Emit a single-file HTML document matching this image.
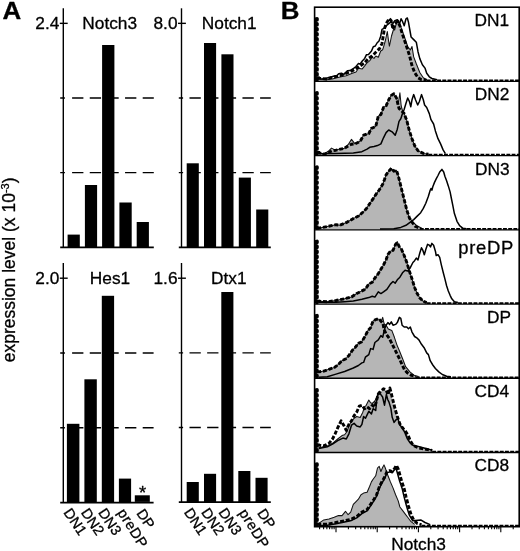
<!DOCTYPE html>
<html lang="en"><head><meta charset="utf-8"><title>Notch expression figure</title>
<style>html,body{margin:0;padding:0;background:#fff}body{width:520px;height:551px;overflow:hidden}svg{display:block}text{font-family:'Liberation Sans', sans-serif;fill:#000;stroke:#000;stroke-width:0.3px;stroke-linejoin:round}</style>
</head><body>
<svg width="520" height="551" viewBox="0 0 520 551">
<rect x="0" y="0" width="520" height="551" fill="#fff"/>
<g id="panelA">
<text transform="translate(2.4,19) scale(1.07,1)" font-size="24.2" font-weight="bold" stroke-width="0.5">A</text>
<text transform="translate(15.4,362.3) rotate(-90)" font-size="17.5">expression level (x 10<tspan font-size="11" dy="-6.4">-3</tspan><tspan dy="6.4">)</tspan></text>
<path d="M63.3 8.3V247.3" stroke="#000" stroke-width="1.4" fill="none"/>
<path d="M60.2 247.3H153.8" stroke="#000" stroke-width="1.7" fill="none"/>
<path d="M59.8 23.35H67.7" stroke="#000" stroke-width="1.4" fill="none"/>
<path d="M60.2 98H64.9M72.1 98H83.4M89.75 98H101.05M107.4 98H118.7M125.05 98H136.35M142.7 98H153.8" stroke="#000" stroke-width="1.4" fill="none"/>
<path d="M60.2 172.65H64.9M72.1 172.65H83.4M89.75 172.65H101.05M107.4 172.65H118.7M125.05 172.65H136.35M142.7 172.65H153.8" stroke="#000" stroke-width="1.4" fill="none"/>
<rect x="67.6" y="234.6" width="12.2" height="12.7" fill="#000"/>
<rect x="84.9" y="185" width="12.2" height="62.3" fill="#000"/>
<rect x="102.1" y="45" width="12.3" height="202.3" fill="#000"/>
<rect x="119.4" y="202.5" width="12.3" height="44.8" fill="#000"/>
<rect x="136.7" y="222" width="12.2" height="25.3" fill="#000"/>
<text x="59.3" y="28.65" font-size="17.3" text-anchor="end">2.4</text>
<text x="82.3" y="28.65" font-size="17.3">Notch3</text>
<path d="M181.5 8.3V247.3" stroke="#000" stroke-width="1.4" fill="none"/>
<path d="M178.8 247.3H270.8" stroke="#000" stroke-width="1.7" fill="none"/>
<path d="M178 23.35H185.9" stroke="#000" stroke-width="1.4" fill="none"/>
<path d="M178.8 98H183.1M189.5 98H200.8M207.15 98H218.45M224.8 98H236.1M242.45 98H253.75M260.1 98H270.8" stroke="#000" stroke-width="1.4" fill="none"/>
<path d="M178.8 172.65H183.1M189.5 172.65H200.8M207.15 172.65H218.45M224.8 172.65H236.1M242.45 172.65H253.75M260.1 172.65H270.8" stroke="#000" stroke-width="1.4" fill="none"/>
<rect x="186.7" y="163.3" width="12.1" height="84" fill="#000"/>
<rect x="204" y="43" width="12.1" height="204.3" fill="#000"/>
<rect x="221.4" y="54.3" width="12.1" height="193" fill="#000"/>
<rect x="238.8" y="177.6" width="12.1" height="69.7" fill="#000"/>
<rect x="256.2" y="209.5" width="12.1" height="37.8" fill="#000"/>
<text x="177.5" y="28.65" font-size="17.3" text-anchor="end">8.0</text>
<text x="201.8" y="28.65" font-size="17.3">Notch1</text>
<path d="M63.3 263.1V502.6" stroke="#000" stroke-width="1.4" fill="none"/>
<path d="M60.2 502.6H153.6" stroke="#000" stroke-width="1.7" fill="none"/>
<path d="M59.8 278.2H67.7" stroke="#000" stroke-width="1.4" fill="none"/>
<path d="M60.2 353H64.9M72.1 353H83.4M89.75 353H101.05M107.4 353H118.7M125.05 353H136.35M142.7 353H153.6" stroke="#000" stroke-width="1.4" fill="none"/>
<path d="M60.2 427.8H64.9M72.1 427.8H83.4M89.75 427.8H101.05M107.4 427.8H118.7M125.05 427.8H136.35M142.7 427.8H153.6" stroke="#000" stroke-width="1.4" fill="none"/>
<rect x="66.9" y="423.8" width="12.5" height="78.8" fill="#000"/>
<rect x="84.4" y="379.3" width="12.4" height="123.3" fill="#000"/>
<rect x="101.8" y="295.8" width="12.3" height="206.8" fill="#000"/>
<rect x="118.9" y="478.6" width="12.2" height="24" fill="#000"/>
<rect x="134.8" y="495.3" width="15" height="6.6" fill="#000"/>
<text x="59.3" y="283.5" font-size="17.3" text-anchor="end">2.0</text>
<text x="89.8" y="283.5" font-size="17.3">Hes1</text>
<path d="M181.5 263V502.2" stroke="#000" stroke-width="1.4" fill="none"/>
<path d="M178.8 502.2H270.8" stroke="#000" stroke-width="1.7" fill="none"/>
<path d="M178 278.2H185.9" stroke="#000" stroke-width="1.4" fill="none"/>
<path d="M178.8 352.87H183.1M189.5 352.87H200.8M207.15 352.87H218.45M224.8 352.87H236.1M242.45 352.87H253.75M260.1 352.87H270.8" stroke="#000" stroke-width="1.4" fill="none"/>
<path d="M178.8 427.53H183.1M189.5 427.53H200.8M207.15 427.53H218.45M224.8 427.53H236.1M242.45 427.53H253.75M260.1 427.53H270.8" stroke="#000" stroke-width="1.4" fill="none"/>
<rect x="186.7" y="482" width="12.1" height="20.2" fill="#000"/>
<rect x="204" y="473.8" width="12.1" height="28.4" fill="#000"/>
<rect x="221.3" y="292" width="12.1" height="210.2" fill="#000"/>
<rect x="238.3" y="471" width="12.1" height="31.2" fill="#000"/>
<rect x="255.5" y="477.8" width="12.1" height="24.4" fill="#000"/>
<text x="177.5" y="283.5" font-size="17.3" text-anchor="end">1.6</text>
<text x="211" y="283.5" font-size="17.3">Dtx1</text>
<text x="142.6" y="499.3" font-size="18.5" text-anchor="middle" stroke-width="0.5">*</text>
<text transform="translate(63.1,512.5) rotate(56)" font-size="14.5">DN1</text>
<text transform="translate(80.5,512.5) rotate(56)" font-size="14.5">DN2</text>
<text transform="translate(97.7,512.5) rotate(56)" font-size="14.5">DN3</text>
<text transform="translate(117.1,512.5) rotate(58)" font-size="14.5" letter-spacing="0.5">preDP</text>
<text transform="translate(136,513.2) rotate(56)" font-size="14.5">DP</text>
<text transform="translate(183.4,512.2) rotate(56)" font-size="14.5">DN1</text>
<text transform="translate(200.7,512.2) rotate(56)" font-size="14.5">DN2</text>
<text transform="translate(218,512.2) rotate(56)" font-size="14.5">DN3</text>
<text transform="translate(238.6,512.7) rotate(58)" font-size="14.5" letter-spacing="0.5">preDP</text>
<text transform="translate(256.7,513) rotate(56)" font-size="14.5">DP</text>
</g>
<g id="panelB">
<text transform="translate(280.7,19) scale(1.07,1)" font-size="24.2" font-weight="bold" stroke-width="0.5">B</text>
<defs><clipPath id="fr"><rect x="314.6" y="7.2" width="204.6" height="519.5"/></clipPath></defs>
<g id="hist1">
<path d="M315.8 81.11 L316.2 19.2 L317.8 19.2 L318.6 79.6 L318.5 79.6 L326.5 79.8 L332.3 79 L336 78 L340 77 L346.2 75.7 L352.3 73.3 L356 72 L358.5 68.3 L362.2 68.9 L364.7 65.9 L366.5 63.4 L369.6 60.9 L372.1 57.2 L374 58.4 L375.8 56 L378.3 57.2 L380.7 51 L382.6 49.8 L383.8 46.1 L385.5 40 L387.3 31.5 L388.3 39 L389.4 46.1 L390.5 41 L391.5 36 L393.5 29.5 L394.7 30 L396.4 22.8 L398.2 20.2 L399.9 24 L401.6 29.2 L404.2 36.1 L407.7 46.5 L410.3 50 L412 46.5 L413.7 56.9 L416.3 63.8 L419.8 72.5 L423.3 77.7 L426.7 79.7 L428.7 81.11Z" fill="#b6b6b6" stroke="none"/>
<path d="M318.6 79.6 L318.5 79.6 L326.5 79.8 L332.3 79 L336 78 L340 77 L346.2 75.7 L352.3 73.3 L356 72 L358.5 68.3 L362.2 68.9 L364.7 65.9 L366.5 63.4 L369.6 60.9 L372.1 57.2 L374 58.4 L375.8 56 L378.3 57.2 L380.7 51 L382.6 49.8 L383.8 46.1 L385.5 40 L387.3 31.5 L388.3 39 L389.4 46.1 L390.5 41 L391.5 36 L393.5 29.5 L394.7 30 L396.4 22.8 L398.2 20.2 L399.9 24 L401.6 29.2 L404.2 36.1 L407.7 46.5 L410.3 50 L412 46.5 L413.7 56.9 L416.3 63.8 L419.8 72.5 L423.3 77.7 L426.7 79.7" fill="none" stroke="#111" stroke-width="1.05" stroke-linejoin="round"/>
<path d="M318.5 78.5 L321.9 79 L325.4 78.5 L330 77.3 L333.5 76.2 L336.9 75.6 L338.7 73.8 L341.5 73.3 L343.8 74.4 L347.4 70.8 L350 70.6 L353.6 68.3 L356 66.5 L358.5 63.4 L360 64.2 L362.3 61 L364.7 58.4 L366.5 54.7 L368.5 54.5 L371.5 51 L373.3 46.7 L375.3 46 L377 43 L379 41 L380.7 36.2 L382 29.4 L384.4 28.2 L386.9 25.1 L390.4 22.3 L393 23.2 L394.8 20.6 L397.3 19.7 L399.4 24 L401.1 18.8 L402.5 21.4 L404.2 25.8 L406 18.8 L407.3 18 L408.5 22.3 L409.4 27.5 L411.1 37 L413.7 39.6 L416.3 42.2 L418 51.7 L419.8 58.6 L422.4 64.7 L425 68.1 L426.7 73.3 L429.3 76.8 L431.9 78.5 L437.1 79.7" fill="none" stroke="#000" stroke-width="1.5" stroke-linejoin="round"/>
<path d="M315.7 17.4V80.91" fill="none" stroke="#000" stroke-width="2.4"/>
<path d="M317.1 18.6V80.41" fill="none" stroke="#000" stroke-width="3.4" stroke-dasharray="1.3 3.7" stroke-linecap="round"/>
<path d="M318.6 76.4 L318.5 77.9 L321.9 78.5 L326.5 79 L331.2 77.6 L335.8 76.6 L340 75.7 L346.2 73.3 L352.3 70.8 L358.5 67.1 L364.7 62.8 L368.4 58.4 L372.1 56 L375.8 52.3 L379.5 48.6 L382 43.6 L383.2 36.2 L384.4 28.8 L386.3 23.3 L389.4 18.5 L391.2 20.6 L393 29.2 L394.7 24 L397.3 21.4 L399.9 25.8 L402.5 34.4 L406 44.8 L409.4 55.2 L412 65.6 L414.6 72.5 L418 77.7 L421.5 79.7 L426.7 80.3" fill="none" stroke="#000" stroke-width="2.9" stroke-dasharray="4 1.8" stroke-linejoin="round"/>
<path d="M426.7 80.41H519.2" fill="none" stroke="#000" stroke-width="1.7" stroke-dasharray="3.9 1.3"/>
</g>
<g id="hist2">
<path d="M315.8 155.33 L316.2 93.41 L317.8 93.41 L318.6 152.5 L318.7 152.5 L323.8 154.3 L329 150.7 L331.5 148.1 L335 149.9 L344.6 148.2 L348.1 144.7 L351.5 139.4 L355 143.9 L360.2 141.3 L363.6 135.2 L368.8 133.5 L371.4 128.3 L375.7 126.6 L378.3 116.2 L380.9 114.5 L383.5 107.5 L386.1 105.8 L388.7 99.8 L391.3 95.4 L393.9 93.7 L396.5 98 L398.2 104 L399.9 92.8 L401.2 106 L402.6 111 L404.2 113.6 L406.8 120.5 L409.4 130.9 L412 138.7 L414.6 145.6 L418 150.8 L423.3 153.4 L428.4 154.3 L430.4 155.33Z" fill="#b6b6b6" stroke="none"/>
<path d="M318.6 152.5 L318.7 152.5 L323.8 154.3 L329 150.7 L331.5 148.1 L335 149.9 L344.6 148.2 L348.1 144.7 L351.5 139.4 L355 143.9 L360.2 141.3 L363.6 135.2 L368.8 133.5 L371.4 128.3 L375.7 126.6 L378.3 116.2 L380.9 114.5 L383.5 107.5 L386.1 105.8 L388.7 99.8 L391.3 95.4 L393.9 93.7 L396.5 98 L398.2 104 L399.9 92.8 L401.2 106 L402.6 111 L404.2 113.6 L406.8 120.5 L409.4 130.9 L412 138.7 L414.6 145.6 L418 150.8 L423.3 153.4 L428.4 154.3" fill="none" stroke="#111" stroke-width="1.05" stroke-linejoin="round"/>
<path d="M318.7 153.7 L336 153.4 L353.3 153 L361.9 151.7 L367.1 149.1 L369.7 147.3 L374 146.5 L377.5 145.6 L380.9 143.9 L383.5 137.8 L386.1 132.6 L388.7 130 L392.1 131.8 L395.2 135.2 L397.3 129.2 L399 121.4 L400.8 118.8 L402.5 113.6 L404.2 109.3 L406 103.2 L407.7 98 L409.4 101.5 L410.8 106.7 L412 99.8 L413.7 94.6 L415.5 99.8 L417.7 105 L419.4 101.5 L421.5 94.6 L423.3 99.8 L424.6 105 L426.7 107.5 L429.3 113.6 L431 119.7 L433.6 124 L435.4 130.9 L438 138.7 L440.6 143.9 L443.1 149.9 L445.4 153.7" fill="none" stroke="#000" stroke-width="1.5" stroke-linejoin="round"/>
<path d="M315.7 91.61V155.13" fill="none" stroke="#000" stroke-width="2.4"/>
<path d="M317.1 92.81V154.63" fill="none" stroke="#000" stroke-width="3.4" stroke-dasharray="1.3 3.7" stroke-linecap="round"/>
<path d="M318.6 151 L318.7 152.5 L323.8 154.3 L329 152.3 L332.5 150.6 L336 150.2 L344.6 148.2 L348.1 146 L351.5 144.2 L355 143.9 L360.2 141.3 L363.6 135.2 L368.8 133.5 L371.4 128.3 L375.7 126.6 L378.3 116.2 L380.9 114.5 L383.5 107.5 L386.1 105.8 L388.7 99.8 L391.3 95.4 L393.9 93.7 L396.5 98 L398.2 105.4 L399 108.4 L401.6 111 L404.2 113.6 L406.8 120.5 L409.4 130.9 L412 138.7 L414.6 145.6 L418 150.8 L423.3 153.4 L428.4 154.3" fill="none" stroke="#000" stroke-width="2.9" stroke-dasharray="4 1.8" stroke-linejoin="round"/>
<path d="M428.4 154.63H519.2" fill="none" stroke="#000" stroke-width="1.7" stroke-dasharray="3.9 1.3"/>
</g>
<g id="hist3">
<path d="M315.8 229.54 L316.2 167.63 L317.8 167.63 L318.6 228.2 L318.7 228.2 L327.3 226.5 L336 224.7 L340 225.2 L346.9 222.3 L352.7 218.9 L358.5 216 L363.1 212 L366.5 208.5 L370 203.3 L373.5 198.1 L375.8 194.6 L379.2 190 L382.7 184.3 L384.4 179.8 L386.1 174.8 L388.7 171.2 L391.3 168.6 L393.8 171.2 L396.4 170.3 L398.2 175.5 L399.9 182.4 L401.6 189.3 L404.2 199.7 L406.8 210.1 L409.4 217.9 L412.5 221.7 L416.5 225.5 L421.8 228.3 L423.8 229.54Z" fill="#b6b6b6" stroke="none"/>
<path d="M318.6 228.2 L318.7 228.2 L327.3 226.5 L336 224.7 L340 225.2 L346.9 222.3 L352.7 218.9 L358.5 216 L363.1 212 L366.5 208.5 L370 203.3 L373.5 198.1 L375.8 194.6 L379.2 190 L382.7 184.3 L384.4 179.8 L386.1 174.8 L388.7 171.2 L391.3 168.6 L393.8 171.2 L396.4 170.3 L398.2 175.5 L399.9 182.4 L401.6 189.3 L404.2 199.7 L406.8 210.1 L409.4 217.9 L412.5 221.7 L416.5 225.5 L421.8 228.3" fill="none" stroke="#111" stroke-width="1.05" stroke-linejoin="round"/>
<path d="M380 229.1 L393.8 228.8 L400.8 227.4 L406 225.3 L410.3 222.2 L413.7 219.6 L417.2 216.1 L420.7 212.7 L423.3 208.4 L425.8 203.2 L428.4 196.3 L430.2 190.2 L431 188.5 L431.9 190.2 L432.8 186.7 L434.5 182.4 L436.2 178.9 L438 175.5 L439.7 172 L441.9 169.4 L443.7 172 L444.9 176.3 L446.6 180.7 L448.3 185.9 L450.1 191.9 L451.3 198 L452.7 204.9 L454.4 213.6 L457 221.3 L459.6 225.7 L463 228.3 L466.5 228.8" fill="none" stroke="#000" stroke-width="1.5" stroke-linejoin="round"/>
<path d="M315.7 165.83V229.34" fill="none" stroke="#000" stroke-width="2.4"/>
<path d="M317.1 167.03V228.84" fill="none" stroke="#000" stroke-width="3.4" stroke-dasharray="1.3 3.7" stroke-linecap="round"/>
<path d="M318.6 226.7 L318.7 228.2 L327.3 226.5 L336 224.7 L340 225.2 L346.9 222.3 L352.7 218.9 L358.5 216 L363.1 212 L366.5 208.5 L370 203.3 L373.5 198.1 L375.8 194.6 L379.2 190 L382.7 184.3 L384.4 179.8 L386.1 174.8 L388.7 171.2 L391.5 168.2 L393.8 171.2 L396.4 170.3 L398.2 175.5 L399.9 182.4 L401.6 189.3 L404.2 199.7 L406.8 210.1 L409.4 217.9 L412 222.2 L415.5 226.5 L419.8 228.3" fill="none" stroke="#000" stroke-width="2.9" stroke-dasharray="4 1.8" stroke-linejoin="round"/>
<path d="M419.8 228.84H519.2" fill="none" stroke="#000" stroke-width="1.7" stroke-dasharray="3.9 1.3"/>
</g>
<g id="hist4">
<path d="M315.8 303.76 L316.2 241.84 L317.8 241.84 L318.6 301.3 L318.7 301.3 L327.3 301.8 L336 300.5 L344.6 298.7 L351.5 297 L356.7 293.5 L361.9 290.9 L365.4 289.2 L368.8 284 L372.3 282.3 L374.9 278 L378.3 273.6 L380.9 269.3 L383.5 265 L386.1 259.8 L387.9 254.6 L390.4 251.2 L393 250.3 L395.6 244.3 L397.3 241.6 L399.4 246.9 L401.6 249.5 L404.2 255.5 L406.8 262.5 L409.4 271.1 L412 278.9 L414.6 287.5 L417.2 293.6 L419.8 297.9 L423.3 301.4 L426.7 302.6 L428.7 303.76Z" fill="#b6b6b6" stroke="none"/>
<path d="M318.6 301.3 L318.7 301.3 L327.3 301.8 L336 300.5 L344.6 298.7 L351.5 297 L356.7 293.5 L361.9 290.9 L365.4 289.2 L368.8 284 L372.3 282.3 L374.9 278 L378.3 273.6 L380.9 269.3 L383.5 265 L386.1 259.8 L387.9 254.6 L390.4 251.2 L393 250.3 L395.6 244.3 L397.3 241.6 L399.4 246.9 L401.6 249.5 L404.2 255.5 L406.8 262.5 L409.4 271.1 L412 278.9 L414.6 287.5 L417.2 293.6 L419.8 297.9 L423.3 301.4 L426.7 302.6" fill="none" stroke="#111" stroke-width="1.05" stroke-linejoin="round"/>
<path d="M318.7 302.3 L336 302.3 L344.6 301.7 L353.3 301 L361.9 299.3 L368.8 297.6 L372.3 296.2 L374.9 297.1 L378.3 291.9 L380.9 293.6 L383.5 291.9 L386.9 289.3 L390.4 284.1 L393 281.5 L395.2 283.2 L397.3 279.8 L399.9 277.2 L402.5 272.8 L405.1 270.2 L407.7 271.1 L410.3 267.7 L412.9 262.5 L414.6 260.7 L416.3 258.1 L418 259.9 L419.8 253 L421.5 247.8 L422.9 250.4 L424.3 254.7 L425.8 249.5 L427.6 244.3 L429.3 245.2 L430.5 246.9 L431.9 243.4 L433.6 245.2 L435.4 251.2 L436.2 255.5 L438 254.7 L439.7 257.3 L441.4 265.1 L443.1 272 L444.9 278.9 L446.6 285.8 L448.3 291 L450.1 295.3 L451.8 298.8 L454.4 301.7 L457.9 302.6" fill="none" stroke="#000" stroke-width="1.5" stroke-linejoin="round"/>
<path d="M315.7 240.04V303.56" fill="none" stroke="#000" stroke-width="2.4"/>
<path d="M317.1 241.24V303.06" fill="none" stroke="#000" stroke-width="3.4" stroke-dasharray="1.3 3.7" stroke-linecap="round"/>
<path d="M318.6 299.8 L318.7 301.3 L327.3 301.8 L336 300.5 L344.6 298.7 L351.5 297 L356.7 293.5 L361.9 290.9 L365.4 289.2 L368.8 284 L372.3 282.3 L374.9 278 L378.3 273.6 L380.9 269.3 L383.5 265 L386.1 259.8 L387.9 254.6 L390.4 251.2 L393 250.3 L395.6 244.3 L397.3 242.6 L399.4 246.9 L401.6 249.5 L404.2 255.5 L406.8 262.5 L409.4 271.1 L412 278.9 L414.6 287.5 L417.2 293.6 L419.8 297.9 L423.3 301.4 L426.7 302.6" fill="none" stroke="#000" stroke-width="2.9" stroke-dasharray="4 1.8" stroke-linejoin="round"/>
<path d="M426.7 303.06H519.2" fill="none" stroke="#000" stroke-width="1.7" stroke-dasharray="3.9 1.3"/>
</g>
<g id="hist5">
<path d="M315.8 377.97 L316.2 316.06 L317.8 316.06 L318.6 371.9 L318.7 371.9 L323.8 371.1 L329 369.3 L334.2 367.6 L337.7 365 L342 360.7 L345.5 359 L348.9 355.5 L352.4 350.3 L355 347.7 L358.4 343.4 L361.9 341.7 L365.4 335.6 L368 330.4 L370.6 327.8 L373.1 320.9 L376.6 319.2 L379.2 319.2 L381.2 321.5 L382.7 317.4 L384.2 324 L386.1 325.2 L388.3 329 L391.8 330.4 L394.4 337.3 L397 345.1 L399.6 351.2 L403 359.8 L405.6 366.7 L409.9 371.9 L414.3 375.4 L418.6 376.6 L420.6 377.97Z" fill="#b6b6b6" stroke="none"/>
<path d="M318.6 371.9 L318.7 371.9 L323.8 371.1 L329 369.3 L334.2 367.6 L337.7 365 L342 360.7 L345.5 359 L348.9 355.5 L352.4 350.3 L355 347.7 L358.4 343.4 L361.9 341.7 L365.4 335.6 L368 330.4 L370.6 327.8 L373.1 320.9 L376.6 319.2 L379.2 319.2 L381.2 321.5 L382.7 317.4 L384.2 324 L386.1 325.2 L388.3 329 L391.8 330.4 L394.4 337.3 L397 345.1 L399.6 351.2 L403 359.8 L405.6 366.7 L409.9 371.9 L414.3 375.4 L418.6 376.6" fill="none" stroke="#111" stroke-width="1.05" stroke-linejoin="round"/>
<path d="M318.7 377.2 L327.3 376.7 L336 374.1 L344.6 371.5 L353.3 368 L358.4 365.5 L361.9 362.9 L363.6 362.4 L365.4 357.2 L368.8 354.6 L370.6 348.6 L373.1 349.4 L374.9 342.5 L378.3 339.9 L380.9 335.6 L382.7 337.3 L384.4 329.5 L386.1 325.2 L387.9 322.6 L389.6 324.4 L391.3 321.8 L393 325.2 L395.6 324.4 L397.3 322.6 L399.4 317.4 L400.8 318.3 L402.1 325.2 L404.2 327 L406.8 327 L408.5 328.7 L410.3 327 L412 332.1 L414.6 336.5 L417.2 338.2 L418.9 339.9 L421.5 344.3 L424.1 347.7 L426.7 352.9 L428.4 354.6 L430.2 360.7 L432.8 365 L435.4 368.5 L438.8 371.9 L442.3 374.5 L446.6 376.3 L450.9 376.8" fill="none" stroke="#000" stroke-width="1.5" stroke-linejoin="round"/>
<path d="M315.7 314.26V377.77" fill="none" stroke="#000" stroke-width="2.4"/>
<path d="M317.1 315.46V377.27" fill="none" stroke="#000" stroke-width="3.4" stroke-dasharray="1.3 3.7" stroke-linecap="round"/>
<path d="M318.6 370.4 L318.7 371.9 L323.8 371.1 L329 369.3 L334.2 367.6 L337.7 365 L342 360.7 L345.5 359 L348.9 355.5 L352.4 350.3 L355 347.7 L358.4 343.4 L361.9 341.7 L365.4 335.6 L368 330.4 L370.6 327.8 L373.1 320.9 L376.6 319.2 L379.2 319.2 L383 323.5 L384 329.5 L386.6 334.7 L389.2 338.2 L391.8 343.4 L394.4 348.6 L397 353.8 L399.6 359 L402 364.5 L404.4 369.5 L407.3 372.8 L411.6 375.4 L415.9 376.6" fill="none" stroke="#000" stroke-width="2.9" stroke-dasharray="4 1.8" stroke-linejoin="round"/>
<path d="M415.9 377.27H519.2" fill="none" stroke="#000" stroke-width="1.7" stroke-dasharray="3.9 1.3"/>
</g>
<g id="hist6">
<path d="M315.8 452.19 L316.2 390.27 L317.8 390.27 L318.6 447.7 L318.7 447.7 L327.3 445.9 L332.5 443.3 L337.7 439 L342 435.6 L344.6 434.7 L347.2 431.2 L348.9 426 L351.5 420.8 L354.1 418.3 L356.7 416.5 L360.2 417.4 L362.8 412.2 L364.5 407 L366.2 405.3 L368.8 400.1 L370.6 402.7 L372.3 403.5 L374.9 401 L376.6 397.5 L378.3 392.3 L380 391.4 L381.5 390.5 L383.3 388.9 L385.8 390.8 L387.7 395.7 L389.6 389 L391.3 394.4 L393.2 402.1 L395.1 409.7 L397 416 L399.6 423.7 L402.1 427.5 L405.3 431.3 L407.8 435.1 L410.4 441.4 L412.9 445.3 L418 447.8 L425.6 449.3 L432 450.4 L434 452.19Z" fill="#b6b6b6" stroke="none"/>
<path d="M318.6 447.7 L318.7 447.7 L327.3 445.9 L332.5 443.3 L337.7 439 L342 435.6 L344.6 434.7 L347.2 431.2 L348.9 426 L351.5 420.8 L354.1 418.3 L356.7 416.5 L360.2 417.4 L362.8 412.2 L364.5 407 L366.2 405.3 L368.8 400.1 L370.6 402.7 L372.3 403.5 L374.9 401 L376.6 397.5 L378.3 392.3 L380 391.4" fill="none" stroke="#111" stroke-width="1.05" stroke-linejoin="round"/>
<path d="M318.7 448.5 L327.3 446.8 L332.5 444.2 L337.7 440.7 L342.9 438.1 L346.3 439 L348.9 433.8 L351.5 425.2 L354.1 423.4 L356.7 426 L360.2 426.9 L361.9 424.3 L363.6 416.5 L365.4 418.3 L367.1 414.8 L368.8 411.3 L371.4 413.9 L373.1 408.7 L375.7 410.5 L376.9 398.2 L378.8 392.5 L380.7 394.4 L382.6 397 L384.5 405.2 L386.4 394.4 L387.7 399.5 L389 402.1 L390.9 408.4 L392.2 417.3 L394.1 422.4 L396 419.8 L397.9 418.6 L399.8 424.9 L402.3 427.8 L404.9 432.6 L407.4 438.9 L409.9 442.7 L413.1 445.3 L418.2 446.5 L425.8 448.4 L432.2 450.3" fill="none" stroke="#000" stroke-width="1.5" stroke-linejoin="round"/>
<path d="M315.7 388.47V451.99" fill="none" stroke="#000" stroke-width="2.4"/>
<path d="M317.1 389.67V451.49" fill="none" stroke="#000" stroke-width="3.4" stroke-dasharray="1.3 3.7" stroke-linecap="round"/>
<path d="M318.6 443.6 L318.7 445.1 L323.8 445.9 L329 443.3 L332.5 439 L335.1 433.8 L337.7 427.8 L341.1 420.8 L343.7 425.2 L346.3 430.4 L348.9 424.3 L351.5 420.8 L354.1 415.7 L356.7 412.2 L359.3 406.1 L361.9 405.3 L364.5 408.7 L367.1 407 L369.7 408.7 L372.3 405.3 L374.9 407 L376.6 400.1 L378.3 394 L380.9 391.4 L383.5 388.8 L386.1 389.7 L387.9 394.9 L389.9 388 L391.5 394.4 L393.4 402.1 L395.3 409.7 L397.2 416 L399.8 423.7 L402.3 427.5 L405.5 431.3 L408 435.1 L410.6 441.4 L413.1 445.3 L418.2 447.8 L425.8 449.3 L432.2 450.4" fill="none" stroke="#000" stroke-width="2.9" stroke-dasharray="4 1.8" stroke-linejoin="round"/>
<path d="M432.2 451.49H519.2" fill="none" stroke="#000" stroke-width="1.7" stroke-dasharray="3.9 1.3"/>
</g>
<g id="hist7">
<path d="M315.8 526.4 L316.2 464.49 L317.8 464.49 L318.6 523.4 L318.7 523.4 L323.8 519.9 L329 519.1 L334.2 517.3 L338.5 515.6 L342 515.6 L345.5 511.3 L348.1 514.7 L350.7 512.1 L353.3 504.4 L355.8 501.8 L358.4 499.2 L361 494.8 L363.6 493.1 L367.1 492.3 L369.7 486.2 L371.4 481.9 L373.1 479.3 L375.7 475.8 L377.5 468 L379.2 466.3 L380.9 471.5 L382.7 467.2 L384 464.9 L385.3 468 L387 473.2 L388.7 477.5 L390.4 481.9 L393 487.9 L395.6 494.8 L398.2 500.9 L399.9 507 L402.5 510.4 L405.1 513.9 L407.7 517.3 L411.1 521.7 L414.6 524.3 L416.6 526.4Z" fill="#b6b6b6" stroke="none"/>
<path d="M318.6 523.4 L318.7 523.4 L323.8 519.9 L329 519.1 L334.2 517.3 L338.5 515.6 L342 515.6 L345.5 511.3 L348.1 514.7 L350.7 512.1 L353.3 504.4 L355.8 501.8 L358.4 499.2 L361 494.8 L363.6 493.1 L367.1 492.3 L369.7 486.2 L371.4 481.9 L373.1 479.3 L375.7 475.8 L377.5 468 L379.2 466.3 L380.9 471.5 L382.7 467.2 L384 464.9 L385.3 468 L387 473.2 L388.7 477.5 L390.4 481.9 L393 487.9 L395.6 494.8 L398.2 500.9 L399.9 507 L402.5 510.4 L405.1 513.9 L407.7 517.3 L411.1 521.7 L414.6 524.3" fill="none" stroke="#111" stroke-width="1.05" stroke-linejoin="round"/>
<path d="M318.7 525.5 L327.3 525.3 L336 523.8 L344.6 522 L351.5 520.4 L356.7 517.8 L361.9 513.6 L367.1 510.9 L370.6 505.9 L374 500.6 L376.6 496.2 L379.2 488.5 L381.8 483.3 L384.4 478.9 L387 472.9 L389.6 471.9 L392.2 472.8 L394.8 469.3 L396.4 466.7 L396.3 469.2 L398 475.3 L399.7 481.3 L402.3 489.1 L404.1 496.9 L406.6 506.4 L409.2 514.9 L412.7 520.8 L420.7 519.9 L425 522.5 L430.2 524.6" fill="none" stroke="#000" stroke-width="1.5" stroke-linejoin="round"/>
<path d="M315.7 462.69V526.2" fill="none" stroke="#000" stroke-width="2.4"/>
<path d="M317.1 463.89V525.7" fill="none" stroke="#000" stroke-width="3.4" stroke-dasharray="1.3 3.7" stroke-linecap="round"/>
<path d="M318.6 522.8 L318.7 524.3 L327.3 524.3 L336 522.5 L344.6 520.8 L351.5 519.1 L356.7 516.5 L361.9 512.1 L367.1 509.6 L370.6 504.4 L374 499.2 L376.6 494.8 L379.2 487.1 L381.8 481.9 L384.4 477.5 L387 471.5 L389.6 470.6 L392.2 471.5 L394.8 468 L396.4 465.4 L398.2 468.9 L399.9 475 L401.6 481 L404.2 488.8 L406 496.6 L408.5 506.1 L411.1 514.7 L413.7 519.9 L417.2 523.4 L421.5 524.6" fill="none" stroke="#000" stroke-width="2.9" stroke-dasharray="4 1.8" stroke-linejoin="round"/>
<path d="M421.5 525.7H519.2" fill="none" stroke="#000" stroke-width="1.7" stroke-dasharray="3.9 1.3"/>
</g>
<path d="M314.6 81.41H519.2" stroke="#000" stroke-width="1.3" fill="none"/>
<path d="M314.6 155.63H519.2" stroke="#000" stroke-width="1.3" fill="none"/>
<path d="M314.6 229.84H519.2" stroke="#000" stroke-width="1.3" fill="none"/>
<path d="M314.6 304.06H519.2" stroke="#000" stroke-width="1.3" fill="none"/>
<path d="M314.6 378.27H519.2" stroke="#000" stroke-width="1.3" fill="none"/>
<path d="M314.6 452.49H519.2" stroke="#000" stroke-width="1.3" fill="none"/>
<rect x="314.6" y="7.2" width="204.6" height="519.5" fill="none" stroke="#000" stroke-width="1.6"/>
<text x="509.2" y="26.2" font-size="17.3" text-anchor="end">DN1</text>
<text x="509.4" y="100.41" font-size="17.3" text-anchor="end">DN2</text>
<text x="509.7" y="174.63" font-size="17.3" text-anchor="end">DN3</text>
<text x="514" y="253.84" font-size="18.4" text-anchor="end" letter-spacing="0.7">preDP</text>
<text x="511" y="323.06" font-size="17.3" text-anchor="end">DP</text>
<text x="509" y="397.27" font-size="17.3" text-anchor="end">CD4</text>
<text x="509" y="471.49" font-size="17.3" text-anchor="end">CD8</text>
<path d="M319.6 526.7V529.3M323.6 526.7V529.3M326.86 526.7V529.3M329.62 526.7V529.3M332.01 526.7V529.3M334.11 526.7V529.3M336 526.7V532.3M348.4 526.7V529.3M355.66 526.7V529.3M360.8 526.7V529.3M364.8 526.7V529.3M368.06 526.7V529.3M370.82 526.7V529.3M373.21 526.7V529.3M375.31 526.7V529.3M377.2 526.7V532.3M389.6 526.7V529.3M396.86 526.7V529.3M402 526.7V529.3M406 526.7V529.3M409.26 526.7V529.3M412.02 526.7V529.3M414.41 526.7V529.3M416.51 526.7V529.3M418.4 526.7V532.3M430.8 526.7V529.3M438.06 526.7V529.3M443.2 526.7V529.3M447.2 526.7V529.3M450.46 526.7V529.3M453.22 526.7V529.3M455.61 526.7V529.3M457.71 526.7V529.3M459.6 526.7V532.3M472 526.7V529.3M479.26 526.7V529.3M484.4 526.7V529.3M488.4 526.7V529.3M491.66 526.7V529.3M494.42 526.7V529.3M496.81 526.7V529.3M498.91 526.7V529.3M500.8 526.7V532.3M513.2 526.7V529.3" stroke="#000" stroke-width="1.1" fill="none"/>
<text x="418.6" y="550" font-size="17.3" text-anchor="middle">Notch3</text>
</g>
</svg></body></html>
